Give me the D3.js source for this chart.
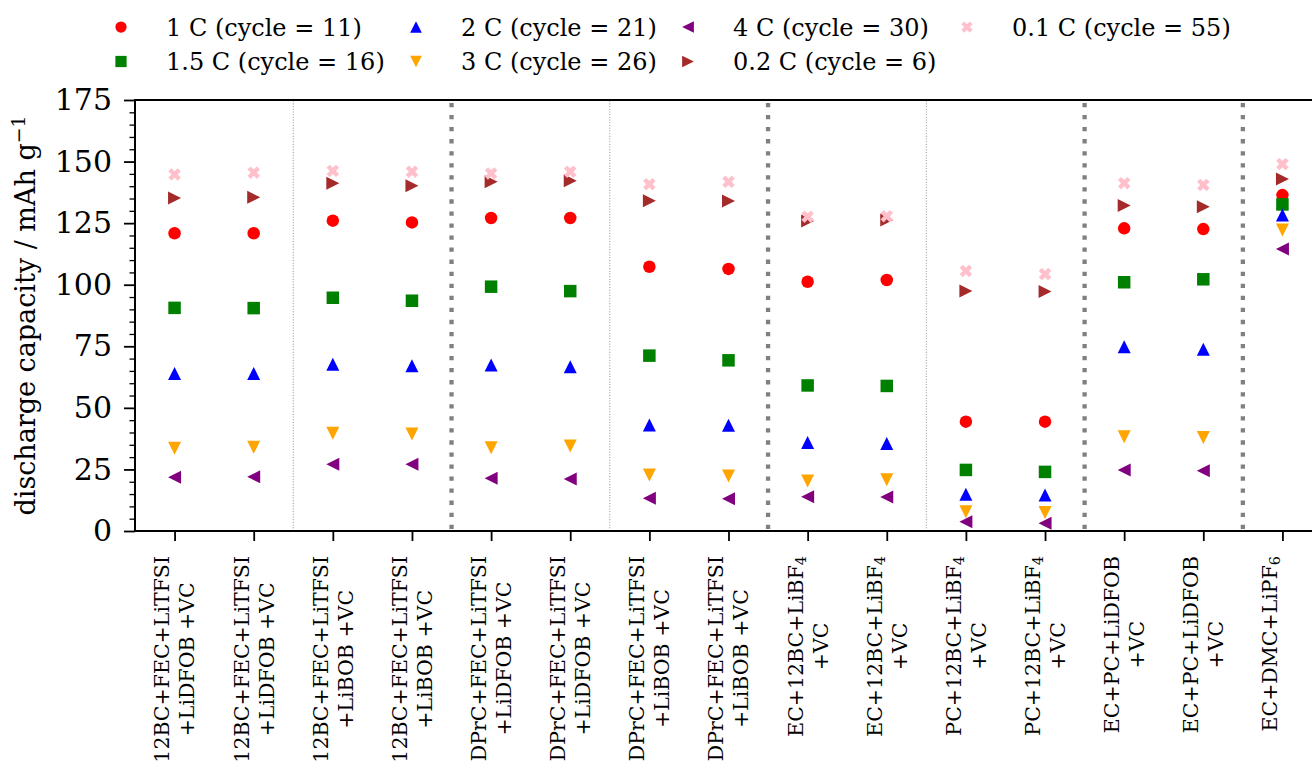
<!DOCTYPE html>
<html>
<head>
<meta charset="utf-8">
<script src="https://cdn.jsdelivr.net/npm/d3@7"></script>
<style>
  html, body { margin: 0; padding: 0; background: #ffffff; }
  svg { display: block; font-family: "DejaVu Serif", serif; }
</style>
</head>
<body>
<script>
// Electrolyte formulations (x categories); "_n" marks a subscript
const categories = [
  ["12BC+FEC+LiTFSI", "+LiDFOB +VC"],
  ["12BC+FEC+LiTFSI", "+LiDFOB +VC"],
  ["12BC+FEC+LiTFSI", "+LiBOB +VC"],
  ["12BC+FEC+LiTFSI", "+LiBOB +VC"],
  ["DPrC+FEC+LiTFSI", "+LiDFOB +VC"],
  ["DPrC+FEC+LiTFSI", "+LiDFOB +VC"],
  ["DPrC+FEC+LiTFSI", "+LiBOB +VC"],
  ["DPrC+FEC+LiTFSI", "+LiBOB +VC"],
  ["EC+12BC+LiBF_4", "+VC"],
  ["EC+12BC+LiBF_4", "+VC"],
  ["PC+12BC+LiBF_4", "+VC"],
  ["PC+12BC+LiBF_4", "+VC"],
  ["EC+PC+LiDFOB", "+VC"],
  ["EC+PC+LiDFOB", "+VC"],
  ["EC+DMC+LiPF_6", ""]
];

// Discharge capacity (mAh/g) per C-rate
const cap1C   = [120.9, 120.9, 126.0, 125.3, 127.1, 127.1, 107.3, 106.4, 101.2, 101.9, 44.4, 44.4, 122.9, 122.6, 136.4];
const cap15C  = [90.6, 90.5, 94.7, 93.5, 99.2, 97.4, 71.2, 69.3, 59.1, 58.9, 24.8, 24.0, 101.0, 102.2, 132.6];
const cap2C   = [64.0, 64.0, 67.7, 67.1, 67.4, 66.7, 43.0, 42.9, 35.9, 35.5, 14.9, 14.6, 74.8, 73.8, 128.3];
const cap3C   = [33.6, 34.0, 39.7, 39.4, 33.8, 34.5, 22.7, 22.3, 20.3, 20.8, 7.8, 7.5, 38.3, 38.0, 122.2];
const cap4C   = [21.8, 22.0, 27.1, 27.1, 21.4, 21.1, 13.3, 13.1, 13.9, 13.8, 3.8, 3.1, 24.8, 24.5, 114.5];
const cap02C  = [135.2, 135.5, 141.2, 140.2, 141.8, 142.2, 134.1, 134.0, 125.9, 126.3, 97.4, 97.2, 132.2, 131.7, 142.9];
const cap01C  = [144.8, 145.5, 146.2, 145.9, 145.2, 145.9, 140.8, 141.8, 127.6, 127.8, 105.6, 104.3, 141.2, 140.5, 149.0];

const seriesNames = ["1 C (cycle = 11)", "1.5 C (cycle = 16)", "2 C (cycle = 21)", "3 C (cycle = 26)",
                     "4 C (cycle = 30)", "0.2 C (cycle = 6)", "0.1 C (cycle = 55)"];
const yTicks = [0, 25, 50, 75, 100, 125, 150, 175];
const thinSeparators = [1.5, 5.5, 9.5];
const thickSeparators = [3.5, 7.5, 11.5, 13.5];

// Marker shapes, centred on their bounding box
function shapePath(kind, s) {
  const h = s / 2;
  switch (kind) {
    case "circle": {
      const p = d3.path(); p.arc(0, 0, h, 0, 2 * Math.PI); p.closePath(); return p.toString();
    }
    case "square": return `M${-h},${-h}H${h}V${h}H${-h}Z`;
    case "up":     return `M0,${-h}L${h},${h}L${-h},${h}Z`;
    case "down":   return `M0,${h}L${h},${-h}L${-h},${-h}Z`;
    case "left":   return `M${-h},0L${h},${-h}L${h},${h}Z`;
    case "right":  return `M${h},0L${-h},${-h}L${-h},${h}Z`;
    case "x": {
      // a plus outline rotated by 45 degrees
      const a = 1;
      const c = Math.SQRT1_2;
      const pts = [[-a,-3*a],[a,-3*a],[a,-a],[3*a,-a],[3*a,a],[a,a],[a,3*a],[-a,3*a],[-a,a],[-3*a,a],[-3*a,-a],[-a,-a]]
        .map(([px, py]) => [(px - py) * c, (px + py) * c]);
      const ext = d3.max(pts, p => Math.abs(p[0]));
      const f = h / ext;
      return "M" + pts.map(p => `${p[0]*f},${p[1]*f}`).join("L") + "Z";
    }
  }
}

const series = [
  { name: seriesNames[0], values: cap1C,  color: "#ff0000", shape: "circle", size: 12.5 },
  { name: seriesNames[1], values: cap15C, color: "#008000", shape: "square", size: 12.5 },
  { name: seriesNames[2], values: cap2C,  color: "#0000ff", shape: "up",     size: 13 },
  { name: seriesNames[3], values: cap3C,  color: "#ffa500", shape: "down",   size: 13 },
  { name: seriesNames[4], values: cap4C,  color: "#800080", shape: "left",   size: 13 },
  { name: seriesNames[5], values: cap02C, color: "#a52a2a", shape: "right",  size: 13 },
  { name: seriesNames[6], values: cap01C, color: "#ffc0cb", shape: "x",      size: 12.5 }
];

const W = 1312, H = 769;
const plot = { left: 135, top: 100, right: 1322, bottom: 531 };

const svg = d3.select("body").append("svg").attr("width", W).attr("height", H);

const x = d3.scaleLinear().domain([-0.5, categories.length - 0.5]).range([plot.left, plot.right]);
const y = d3.scaleLinear().domain([0, 175]).range([plot.bottom, plot.top]);

// Group separators
svg.append("g").selectAll("line").data(thinSeparators).join("line")
  .attr("x1", d => x(d)).attr("x2", d => x(d))
  .attr("y1", plot.bottom).attr("y2", plot.top)
  .attr("stroke", "#8c8c8c").attr("stroke-width", 1).attr("stroke-dasharray", "1,1.7");
svg.append("g").selectAll("line").data(thickSeparators).join("line")
  .attr("x1", d => x(d)).attr("x2", d => x(d))
  .attr("y1", plot.bottom).attr("y2", plot.top)
  .attr("stroke", "#808080").attr("stroke-width", 4.3)
  .attr("stroke-dasharray", "4.3,7.75").attr("stroke-dashoffset", -2);

// Markers
series.forEach(s => {
  svg.append("g").selectAll("path").data(s.values).join("path")
    .attr("transform", (d, i) => `translate(${x(i)},${y(d)})`)
    .attr("d", shapePath(s.shape, s.size))
    .attr("fill", s.color);
});

// Frame
svg.append("rect")
  .attr("x", plot.left).attr("y", plot.top)
  .attr("width", plot.right - plot.left).attr("height", plot.bottom - plot.top)
  .attr("fill", "none").attr("stroke", "#000").attr("stroke-width", 2);

// Y axis: major and minor ticks
const yMinor = d3.range(0, 176, 5).filter(v => v % 25 !== 0);
svg.append("g").attr("transform", `translate(${plot.left},0)`)
  .call(d3.axisLeft(y).tickValues(yMinor).tickSize(5.5).tickFormat(""))
  .call(g => g.select(".domain").remove())
  .call(g => g.selectAll("line").attr("stroke-width", 1.3));
const yAxis = svg.append("g").attr("transform", `translate(${plot.left},0)`)
  .call(d3.axisLeft(y).tickValues(yTicks).tickSize(11).tickPadding(12).tickFormat(d3.format("d")))
  .call(g => g.select(".domain").remove());
yAxis.selectAll("line").attr("stroke-width", 1.8);
yAxis.selectAll("text").attr("font-family", "DejaVu Serif").attr("font-size", 30).attr("fill", "#000");

// X axis ticks
const xAxis = svg.append("g").attr("transform", `translate(0,${plot.bottom})`)
  .call(d3.axisBottom(x).tickValues(d3.range(categories.length)).tickSize(10).tickFormat(""))
  .call(g => g.select(".domain").remove());
xAxis.selectAll("line").attr("stroke-width", 1.8);

// Rich text helper: "_n" becomes a subscript
function addRich(textSel, str) {
  const parts = str.split(/(_\w)/);
  parts.forEach(p => {
    if (!p) return;
    if (p.startsWith("_")) {
      textSel.append("tspan").text(p.slice(1)).attr("font-size", "70%").attr("baseline-shift", "-18%");
    } else {
      textSel.append("tspan").text(p);
    }
  });
}

// Multi-line rotated category labels, end-anchored just below the ticks
const labelFont = 20.5, lineStep = 25, labelTop = 556;
categories.forEach((lines, i) => {
  const g = svg.append("g").attr("transform", `translate(${x(i)},${labelTop}) rotate(-90)`);
  const texts = lines.map((ln, k) => {
    const t = g.append("text").attr("font-size", labelFont).attr("fill", "#000").attr("text-anchor", "middle");
    addRich(t, ln);
    t.attr("y", (k - (lines.length - 1) / 2) * lineStep + 0.36 * labelFont);
    return t;
  });
  const blockW = d3.max(texts, t => t.node().getComputedTextLength());
  texts.forEach(t => t.attr("x", -blockW / 2));
});

// Y axis title
const yTitle = svg.append("text")
  .attr("transform", `translate(35,${(plot.top + plot.bottom) / 2}) rotate(-90)`)
  .attr("text-anchor", "middle").attr("font-size", 27).attr("fill", "#000");
yTitle.append("tspan").text("discharge capacity / mAh g");
yTitle.append("tspan").text("\u22121").attr("font-size", "70%").attr("baseline-shift", "55%");

// Legend: 4 columns filled column by column
const legendCols = [121, 416, 688, 967];
const legendRows = [27, 61.5];
const legend = svg.append("g");
series.forEach((s, i) => {
  const col = Math.floor(i / 2), row = i % 2;
  const lx = legendCols[col], ly = legendRows[row];
  legend.append("path")
    .attr("transform", `translate(${lx},${ly})`)
    .attr("d", shapePath(s.shape, s.size * 0.9))
    .attr("fill", s.color);
  legend.append("text")
    .attr("x", lx + 45).attr("y", ly + 8.7)
    .attr("font-size", 24).attr("fill", "#000")
    .text(s.name);
});
</script>
</body>
</html>
